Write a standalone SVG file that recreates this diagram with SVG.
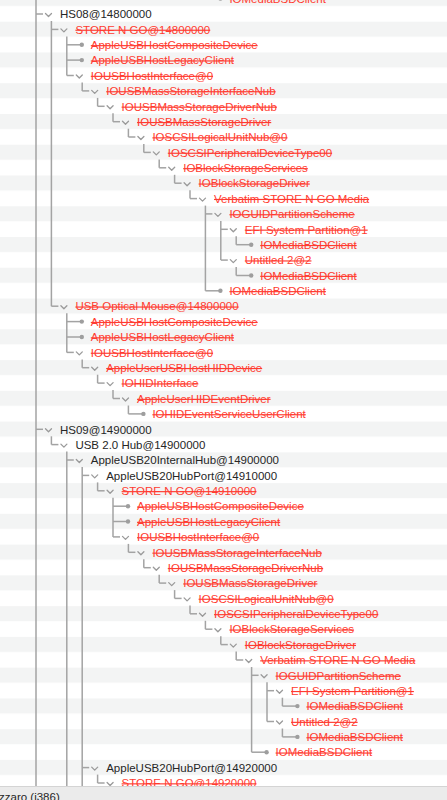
<svg xmlns="http://www.w3.org/2000/svg" xmlns:xlink="http://www.w3.org/1999/xlink" width="447" height="800" viewBox="0 0 447 800">
<style>
.t{font-family:"Liberation Sans",Arial,Helvetica,sans-serif;font-size:11.5px}
.k{fill:#262626}
.r{fill:#ff3b30;text-decoration:line-through}
.ln{stroke:#a3a3a3;stroke-width:1.5;fill:none}
.ch{stroke:#9a9a9a;stroke-width:1.3;fill:none;stroke-linejoin:round;stroke-linecap:round}
.dt{fill:#9e9e9e}
</style>
<defs>
<pattern id="stripes" patternUnits="userSpaceOnUse" x="0" y="-9.07" width="447" height="30.76">
<rect x="0" y="0" width="447" height="15.38" fill="#f3f4f4"/>
<rect x="0" y="15.38" width="447" height="15.38" fill="#ffffff"/>
</pattern>
<path id="chev" d="M-3,-1.5 L0,1.5 L3,-1.5"/>
</defs>
<rect x="0" y="0" width="447" height="800" fill="url(#stripes)"/>
<g id="connectors" class="ln">
<path d="M36,0V787"/>
<path d="M51.4,21V306.2"/>
<path d="M66.8,36.4V75.5"/>
<path d="M82.2,82.5V90.9"/>
<path d="M97.6,97.9V106.3"/>
<path d="M113,113.3V121.7"/>
<path d="M128.4,128.7V137"/>
<path d="M143.8,144V152.4"/>
<path d="M159.2,159.4V167.8"/>
<path d="M174.6,174.8V183.2"/>
<path d="M190,190.2V198.6"/>
<path d="M205.4,205.6V290.8"/>
<path d="M220.8,220.9V260.1"/>
<path d="M236.2,236.3V244.7"/>
<path d="M236.2,267.1V275.5"/>
<path d="M66.8,313.2V352.4"/>
<path d="M82.2,359.4V367.7"/>
<path d="M97.6,374.7V383.1"/>
<path d="M113,390.1V398.5"/>
<path d="M128.4,405.5V413.9"/>
<path d="M51.4,436.3V444.6"/>
<path d="M66.8,451.6V787"/>
<path d="M82.2,467V787"/>
<path d="M97.6,482.4V490.8"/>
<path d="M113,497.8V536.9"/>
<path d="M128.4,543.9V552.3"/>
<path d="M143.8,559.3V567.7"/>
<path d="M159.2,574.7V583.1"/>
<path d="M174.6,590.1V598.4"/>
<path d="M190,605.4V613.8"/>
<path d="M205.4,620.8V629.2"/>
<path d="M220.8,636.2V644.6"/>
<path d="M236.2,651.6V660"/>
<path d="M251.6,667V752.2"/>
<path d="M267,682.3V721.5"/>
<path d="M282.4,697.7V706.1"/>
<path d="M282.4,728.5V736.9"/>
<path d="M97.6,774.6V783"/>
<path d="M205.4,-1.4h15"/>
<path d="M36,14h7"/>
<path d="M51.4,29.4h7"/>
<path d="M66.8,44.8h15"/>
<path d="M66.8,60.1h15"/>
<path d="M66.8,75.5h7"/>
<path d="M82.2,90.9h7"/>
<path d="M97.6,106.3h7"/>
<path d="M113,121.7h7"/>
<path d="M128.4,137h7"/>
<path d="M143.8,152.4h7"/>
<path d="M159.2,167.8h7"/>
<path d="M174.6,183.2h7"/>
<path d="M190,198.6h7"/>
<path d="M205.4,213.9h7"/>
<path d="M220.8,229.3h7"/>
<path d="M236.2,244.7h15"/>
<path d="M220.8,260.1h7"/>
<path d="M236.2,275.5h15"/>
<path d="M205.4,290.8h15"/>
<path d="M51.4,306.2h7"/>
<path d="M66.8,321.6h15"/>
<path d="M66.8,337h15"/>
<path d="M66.8,352.4h7"/>
<path d="M82.2,367.7h7"/>
<path d="M97.6,383.1h7"/>
<path d="M113,398.5h7"/>
<path d="M128.4,413.9h15"/>
<path d="M36,429.3h7"/>
<path d="M51.4,444.6h7"/>
<path d="M66.8,460h7"/>
<path d="M82.2,475.4h7"/>
<path d="M97.6,490.8h7"/>
<path d="M113,506.2h15"/>
<path d="M113,521.5h15"/>
<path d="M113,536.9h7"/>
<path d="M128.4,552.3h7"/>
<path d="M143.8,567.7h7"/>
<path d="M159.2,583.1h7"/>
<path d="M174.6,598.4h7"/>
<path d="M190,613.8h7"/>
<path d="M205.4,629.2h7"/>
<path d="M220.8,644.6h7"/>
<path d="M236.2,660h7"/>
<path d="M251.6,675.3h7"/>
<path d="M267,690.7h7"/>
<path d="M282.4,706.1h15"/>
<path d="M267,721.5h7"/>
<path d="M282.4,736.9h15"/>
<path d="M251.6,752.2h15"/>
<path d="M82.2,767.6h7"/>
<path d="M97.6,783h7"/>
</g>
<g id="n0"><circle class="dt" cx="220.4" cy="-1.4" r="2.2"/><text class="t r" x="229.4" y="2.8">IOMediaBSDClient</text></g>
<g id="n1"><use href="#chev" class="ch" x="48.5" y="15"/><text class="t k" x="60" y="18.2">HS08@14800000</text></g>
<g id="n2"><use href="#chev" class="ch" x="63.9" y="30.4"/><text class="t r" x="75.4" y="33.6">STORE N GO@14800000</text></g>
<g id="n3"><circle class="dt" cx="81.8" cy="44.8" r="2.2"/><text class="t r" x="90.8" y="49">AppleUSBHostCompositeDevice</text></g>
<g id="n4"><circle class="dt" cx="81.8" cy="60.1" r="2.2"/><text class="t r" x="90.8" y="64.3">AppleUSBHostLegacyClient</text></g>
<g id="n5"><use href="#chev" class="ch" x="79.3" y="76.5"/><text class="t r" x="90.8" y="79.7">IOUSBHostInterface@0</text></g>
<g id="n6"><use href="#chev" class="ch" x="94.7" y="91.9"/><text class="t r" x="106.2" y="95.1">IOUSBMassStorageInterfaceNub</text></g>
<g id="n7"><use href="#chev" class="ch" x="110.1" y="107.3"/><text class="t r" x="121.6" y="110.5">IOUSBMassStorageDriverNub</text></g>
<g id="n8"><use href="#chev" class="ch" x="125.5" y="122.7"/><text class="t r" x="137" y="125.9">IOUSBMassStorageDriver</text></g>
<g id="n9"><use href="#chev" class="ch" x="140.9" y="138"/><text class="t r" x="152.4" y="141.2">IOSCSILogicalUnitNub@0</text></g>
<g id="n10"><use href="#chev" class="ch" x="156.3" y="153.4"/><text class="t r" x="167.8" y="156.6">IOSCSIPeripheralDeviceType00</text></g>
<g id="n11"><use href="#chev" class="ch" x="171.7" y="168.8"/><text class="t r" x="183.2" y="172">IOBlockStorageServices</text></g>
<g id="n12"><use href="#chev" class="ch" x="187.1" y="184.2"/><text class="t r" x="198.6" y="187.4">IOBlockStorageDriver</text></g>
<g id="n13"><use href="#chev" class="ch" x="202.5" y="199.6"/><text class="t r" x="214" y="202.8">Verbatim STORE N GO Media</text></g>
<g id="n14"><use href="#chev" class="ch" x="217.9" y="214.9"/><text class="t r" x="229.4" y="218.1">IOGUIDPartitionScheme</text></g>
<g id="n15"><use href="#chev" class="ch" x="233.3" y="230.3"/><text class="t r" x="244.8" y="233.5">EFI System Partition@1</text></g>
<g id="n16"><circle class="dt" cx="251.2" cy="244.7" r="2.2"/><text class="t r" x="260.2" y="248.9">IOMediaBSDClient</text></g>
<g id="n17"><use href="#chev" class="ch" x="233.3" y="261.1"/><text class="t r" x="244.8" y="264.3">Untitled 2@2</text></g>
<g id="n18"><circle class="dt" cx="251.2" cy="275.5" r="2.2"/><text class="t r" x="260.2" y="279.7">IOMediaBSDClient</text></g>
<g id="n19"><circle class="dt" cx="220.4" cy="290.8" r="2.2"/><text class="t r" x="229.4" y="295">IOMediaBSDClient</text></g>
<g id="n20"><use href="#chev" class="ch" x="63.9" y="307.2"/><text class="t r" x="75.4" y="310.4">USB Optical Mouse@14800000</text></g>
<g id="n21"><circle class="dt" cx="81.8" cy="321.6" r="2.2"/><text class="t r" x="90.8" y="325.8">AppleUSBHostCompositeDevice</text></g>
<g id="n22"><circle class="dt" cx="81.8" cy="337" r="2.2"/><text class="t r" x="90.8" y="341.2">AppleUSBHostLegacyClient</text></g>
<g id="n23"><use href="#chev" class="ch" x="79.3" y="353.4"/><text class="t r" x="90.8" y="356.6">IOUSBHostInterface@0</text></g>
<g id="n24"><use href="#chev" class="ch" x="94.7" y="368.7"/><text class="t r" x="106.2" y="371.9">AppleUserUSBHostHIDDevice</text></g>
<g id="n25"><use href="#chev" class="ch" x="110.1" y="384.1"/><text class="t r" x="121.6" y="387.3">IOHIDInterface</text></g>
<g id="n26"><use href="#chev" class="ch" x="125.5" y="399.5"/><text class="t r" x="137" y="402.7">AppleUserHIDEventDriver</text></g>
<g id="n27"><circle class="dt" cx="143.4" cy="413.9" r="2.2"/><text class="t r" x="152.4" y="418.1">IOHIDEventServiceUserClient</text></g>
<g id="n28"><use href="#chev" class="ch" x="48.5" y="430.3"/><text class="t k" x="60" y="433.5">HS09@14900000</text></g>
<g id="n29"><use href="#chev" class="ch" x="63.9" y="445.6"/><text class="t k" x="75.4" y="448.8">USB 2.0 Hub@14900000</text></g>
<g id="n30"><use href="#chev" class="ch" x="79.3" y="461"/><text class="t k" x="90.8" y="464.2">AppleUSB20InternalHub@14900000</text></g>
<g id="n31"><use href="#chev" class="ch" x="94.7" y="476.4"/><text class="t k" x="106.2" y="479.6">AppleUSB20HubPort@14910000</text></g>
<g id="n32"><use href="#chev" class="ch" x="110.1" y="491.8"/><text class="t r" x="121.6" y="495">STORE N GO@14910000</text></g>
<g id="n33"><circle class="dt" cx="128" cy="506.2" r="2.2"/><text class="t r" x="137" y="510.4">AppleUSBHostCompositeDevice</text></g>
<g id="n34"><circle class="dt" cx="128" cy="521.5" r="2.2"/><text class="t r" x="137" y="525.7">AppleUSBHostLegacyClient</text></g>
<g id="n35"><use href="#chev" class="ch" x="125.5" y="537.9"/><text class="t r" x="137" y="541.1">IOUSBHostInterface@0</text></g>
<g id="n36"><use href="#chev" class="ch" x="140.9" y="553.3"/><text class="t r" x="152.4" y="556.5">IOUSBMassStorageInterfaceNub</text></g>
<g id="n37"><use href="#chev" class="ch" x="156.3" y="568.7"/><text class="t r" x="167.8" y="571.9">IOUSBMassStorageDriverNub</text></g>
<g id="n38"><use href="#chev" class="ch" x="171.7" y="584.1"/><text class="t r" x="183.2" y="587.3">IOUSBMassStorageDriver</text></g>
<g id="n39"><use href="#chev" class="ch" x="187.1" y="599.4"/><text class="t r" x="198.6" y="602.6">IOSCSILogicalUnitNub@0</text></g>
<g id="n40"><use href="#chev" class="ch" x="202.5" y="614.8"/><text class="t r" x="214" y="618">IOSCSIPeripheralDeviceType00</text></g>
<g id="n41"><use href="#chev" class="ch" x="217.9" y="630.2"/><text class="t r" x="229.4" y="633.4">IOBlockStorageServices</text></g>
<g id="n42"><use href="#chev" class="ch" x="233.3" y="645.6"/><text class="t r" x="244.8" y="648.8">IOBlockStorageDriver</text></g>
<g id="n43"><use href="#chev" class="ch" x="248.7" y="661"/><text class="t r" x="260.2" y="664.2">Verbatim STORE N GO Media</text></g>
<g id="n44"><use href="#chev" class="ch" x="264.1" y="676.3"/><text class="t r" x="275.6" y="679.5">IOGUIDPartitionScheme</text></g>
<g id="n45"><use href="#chev" class="ch" x="279.5" y="691.7"/><text class="t r" x="291" y="694.9">EFI System Partition@1</text></g>
<g id="n46"><circle class="dt" cx="297.4" cy="706.1" r="2.2"/><text class="t r" x="306.4" y="710.3">IOMediaBSDClient</text></g>
<g id="n47"><use href="#chev" class="ch" x="279.5" y="722.5"/><text class="t r" x="291" y="725.7">Untitled 2@2</text></g>
<g id="n48"><circle class="dt" cx="297.4" cy="736.9" r="2.2"/><text class="t r" x="306.4" y="741.1">IOMediaBSDClient</text></g>
<g id="n49"><circle class="dt" cx="266.6" cy="752.2" r="2.2"/><text class="t r" x="275.6" y="756.4">IOMediaBSDClient</text></g>
<g id="n50"><use href="#chev" class="ch" x="94.7" y="768.6"/><text class="t k" x="106.2" y="771.8">AppleUSB20HubPort@14920000</text></g>
<g id="n51"><use href="#chev" class="ch" x="110.1" y="784"/><text class="t r" x="121.6" y="787.2">STORE N GO@14920000</text></g>
<g id="statusbar">
<rect x="0" y="787" width="447" height="13" fill="#ebebeb"/>
<line x1="0" y1="786.5" x2="447" y2="786.5" stroke="#d4d4d4" stroke-width="1"/>
<text class="t k" x="-1" y="800.5" font-size="11.5">zzaro (i386)</text>
</g>
</svg>
